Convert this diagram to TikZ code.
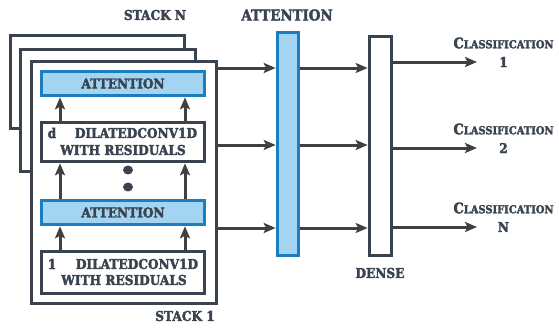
\documentclass[tikz,border=0pt]{standalone}
\usepackage{fontspec}
\newfontfamily\lblfont{DejaVu Serif}[FakeStretch=0.9, BoldFeatures={FakeBold=2.5}]
\usetikzlibrary{arrows.meta,shapes.geometric}
\definecolor{slate}{HTML}{3A4450}
\definecolor{attfill}{HTML}{A3D5F2}
\definecolor{attedge}{HTML}{1C7DBF}
\definecolor{arrowgray}{HTML}{404040}

\begin{document}
\begin{tikzpicture}[x=1pt,y=-1pt,
  lbl/.style={font=\lblfont\bfseries\fontsize{13.5}{15}\selectfont, text=slate, inner sep=0pt},
  frame/.style={draw=slate, line width=3.6pt, fill=white, inner sep=0pt},
  attbox/.style={draw=attedge, fill=attfill, line width=3.6pt, inner sep=0pt},
  convbox/.style={draw=slate, fill=white, line width=3.6pt, inner sep=0pt},
  arr/.style={draw=arrowgray, line width=3pt, -{Stealth[length=12pt,width=10pt,inset=2.5pt]}},
  dot/.style={ellipse, fill=slate, minimum width=10pt, minimum height=9pt, inner sep=0pt},
]
\useasboundingbox (0,0) rectangle (559,327);

% stacked frames, back to front
\node[frame, minimum width=174, minimum height=93]  (s3) at (97.5,82) {};
\node[frame, minimum width=175, minimum height=122] (s2) at (108,110.5) {};
\node[frame, minimum width=185, minimum height=242] (s1) at (124,182.5) {};

% blocks inside the front stack
\node[attbox, minimum width=163, minimum height=24] (attd) at (123,83.5) {};
\node[lbl] at (attd.center) {ATTENTION};
\node[convbox, minimum width=163, minimum height=39] (convd) at (123,142) {};
\node[lbl] at (52,133) {d};
\node[lbl] at (136,133) {DILATEDCONV1D};
\node[lbl] at (123,150) {WITH RESIDUALS};
\node[dot] (dot1) at (128,170) {};
\node[dot] (dot2) at (128,187) {};
\node[attbox, minimum width=163, minimum height=24] (att1) at (123,212.5) {};
\node[lbl] at (att1.center) {ATTENTION};
\node[convbox, minimum width=163, minimum height=42] (conv1) at (123,272.5) {};
\node[lbl] at (52,264) {1};
\node[lbl] at (137,264) {DILATEDCONV1D};
\node[lbl] at (124,280) {WITH RESIDUALS};

% vertical flow inside the stack
\coordinate (la) at (60,0);
\coordinate (ra) at (185,0);
\foreach \lo/\hi in {convd/attd, att1/convd, conv1/att1}{
  \draw[arr] (\lo.north -| la) -- (\hi.south -| la);
  \draw[arr] (\lo.north -| ra) -- (\hi.south -| ra);
}

% shared attention and dense layers
\node[attbox, minimum width=21, minimum height=223] (att) at (288,144) {};
\node[frame, minimum width=22, minimum height=219] (dense) at (380.5,146) {};

% labels
\node[lbl] (lstackn) at (155,15) {STACK N};
\node[lbl] (lstack1) at (185,316) {STACK 1};
\node[lbl, font=\lblfont\bfseries\fontsize{14.8}{16}\selectfont] (latt) at (287,15) {ATTENTION};
\node[lbl] (ldense) at (380,273) {DENSE};

% rows
\coordinate (r1) at (0,68);
\coordinate (r2) at (0,145);
\coordinate (r3) at (0,228);
\foreach \r in {r1,r2,r3}{
  \draw[arr] (s1.east |- \r) -- (att.west |- \r);
  \draw[arr] (att.east |- \r) -- (dense.west |- \r);
}

% outputs
\newcommand\clsname{{\fontsize{14.5}{15}\selectfont C}{\fontsize{11}{12}\selectfont LASSIFICATION}}
\foreach \i/\y/\t in {1/62/1, 2/148/2, 3/227/N}{
  \coordinate (q\i) at (0,\y);
  \coordinate (c\i) at (477,\y);
  \node[lbl] (cn\i) at (503.5,\y-19) {\clsname};
  \node[lbl] (cd\i) at (503.5,\y) {\t};
  \draw[arr] (dense.east |- q\i) -- (c\i);
}
\end{tikzpicture}
\end{document}
